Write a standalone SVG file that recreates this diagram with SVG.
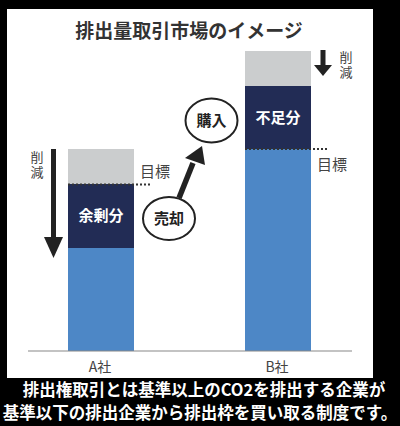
<svg xmlns="http://www.w3.org/2000/svg" width="400" height="426" viewBox="0 0 400 426">
<style>
.jp{font-family:"Noto Sans CJK JP","Noto Sans",sans-serif}
.title{font-size:19px;font-weight:700;fill:#333}
.lbl{font-size:15px;fill:#444}
.small{font-size:13px;fill:#444;writing-mode:vertical-rl;letter-spacing:2px}
.inbar{font-size:15px;font-weight:700;fill:#fff}
.circ{fill:#fff;stroke:#222;stroke-width:2}
.ctext{font-size:15px;font-weight:700;fill:#222}
.gray{fill:#cbcdce}
.navy{fill:#222c55}
.blue{fill:#4d87c6}
.dot{stroke:#333;stroke-width:2;stroke-dasharray:2 2}
.cap{font-size:16.5px;font-weight:700;fill:#fff;font-family:"Noto Sans CJK JP",sans-serif}
</style>
<rect width="400" height="426" fill="#000"/>
<rect x="7" y="9" width="366" height="369" fill="#fff"/>
<text class="jp title" x="189" y="38" text-anchor="middle">排出量取引市場のイメージ</text>

<g id="barA">
<rect class="gray" x="68" y="149" width="66" height="35"/>
<rect class="navy" x="68" y="184" width="66" height="64"/>
<rect class="blue" x="68" y="248" width="66" height="103"/>
<text class="jp inbar" x="101" y="221" text-anchor="middle">余剰分</text>
</g>
<g id="barB">
<rect class="gray" x="245" y="51" width="66" height="35"/>
<rect class="navy" x="245" y="86" width="66" height="63"/>
<rect class="blue" x="245" y="149" width="66" height="202"/>
<text class="jp inbar" x="278" y="123" text-anchor="middle">不足分</text>
</g>

<g id="targets">
<line class="dot" x1="68" y1="184.5" x2="152" y2="184.5"/>
<text class="jp lbl" x="140" y="177">目標</text>
<line class="dot" x1="245" y1="149" x2="329" y2="149"/>
<text class="jp lbl" x="317" y="170">目標</text>
</g>

<g id="reduceA">
<rect x="51" y="149" width="5" height="90" fill="#222"/>
<polygon points="44,237 63,237 53.5,258" fill="#222"/>
<text class="jp small" x="37" y="151">削減</text>
</g>
<g id="reduceB">
<rect x="320.5" y="50" width="5" height="17" fill="#222"/>
<polygon points="314,65 332,65 323,76" fill="#222"/>
<text class="jp small" x="346" y="51">削減</text>
</g>

<g id="connectors">
<line x1="179" y1="198" x2="193" y2="163" stroke="#222" stroke-width="5.5"/>
<polygon points="202,146 205,165 185,158" fill="#222"/>
</g>

<g id="buy">
<ellipse class="circ" cx="211.5" cy="120.5" rx="26" ry="22"/>
<text class="jp ctext" x="211.5" y="126" text-anchor="middle">購入</text>
</g>
<g id="sell">
<ellipse class="circ" cx="169" cy="218.5" rx="26" ry="21.5"/>
<text class="jp ctext" x="169" y="224" text-anchor="middle">売却</text>
</g>

<line x1="28" y1="351" x2="352" y2="351" stroke="#888" stroke-width="1.2"/>
<text class="jp lbl" x="100" y="372" text-anchor="middle" style="font-size:14px">A社</text>
<text class="jp lbl" x="277" y="372" text-anchor="middle" style="font-size:14px">B社</text>

<text class="cap" x="204" y="396" text-anchor="middle">排出権取引とは基準以上のCO2を排出する企業が</text>
<text class="cap" x="200" y="419" text-anchor="middle">基準以下の排出企業から排出枠を買い取る制度です。</text>
</svg>
